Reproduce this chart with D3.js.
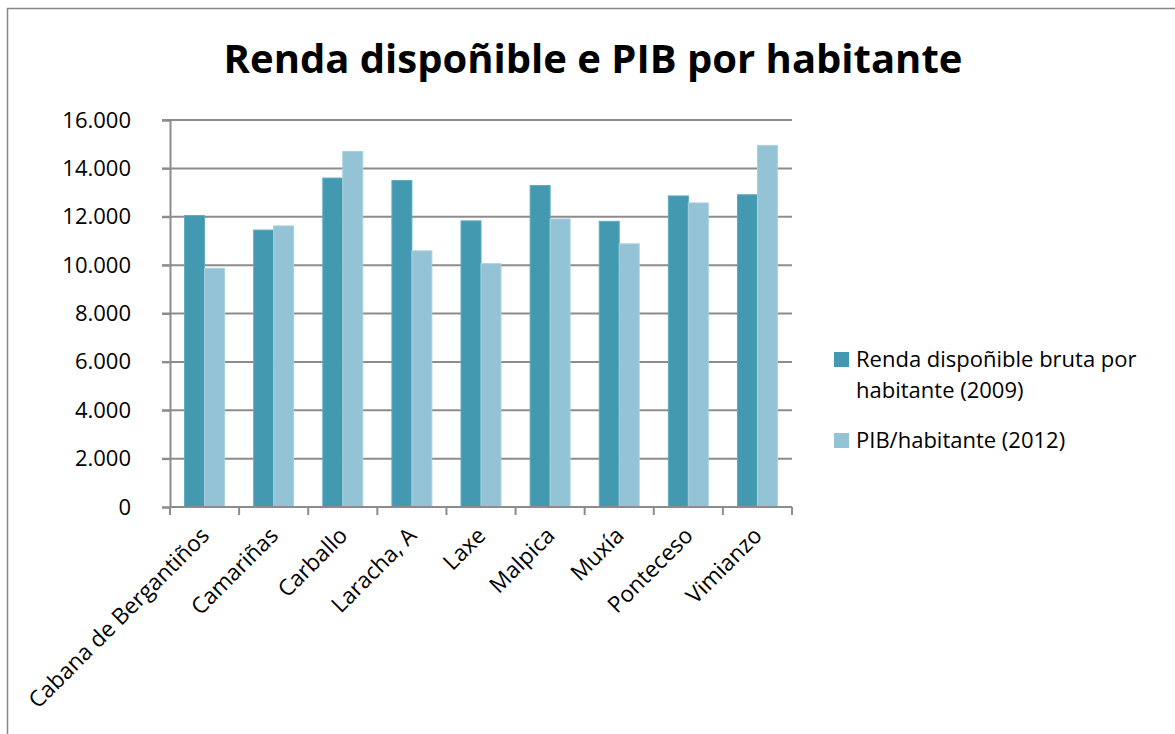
<!DOCTYPE html>
<html>
<head>
<meta charset="utf-8">
<script src="https://cdn.jsdelivr.net/npm/d3@7"></script>
<style>
  body { margin: 0; background: #fff; }
  svg { display: block; font-family: "Open Sans", "Noto Sans", sans-serif; }
</style>
</head>
<body>
<div id="chart"></div>
<script>
// data
const municipalities = ["Cabana de Bergantiños", "Camariñas", "Carballo", "Laracha, A", "Laxe",
                        "Malpica", "Muxía", "Ponteceso", "Vimianzo"];
const renda2009 = [12050, 11450, 13600, 13500, 11830, 13290, 11810, 12860, 12910];
const pib2012 = [9870, 11620, 14700, 10590, 10060, 11910, 10880, 12570, 14950];
const yTicks = [0, 2000, 4000, 6000, 8000, 10000, 12000, 14000, 16000];
const seriesNames = ["Renda dispoñible bruta por habitante (2009)", "PIB/habitante (2012)"];
const colors = ["#4399b0", "#93c3d5"];

const width = 1175, height = 734;
const margin = { top: 120, left: 170, right: 383, bottom: 226 };
const labelSize = 22;

const svg = d3.select("#chart")
  .append("svg")
  .attr("width", width)
  .attr("height", height);

// outer frame of the chart area (runs off the window right and bottom)
svg.append("rect")
  .attr("x", 7.5).attr("y", 8.5)
  .attr("width", width + 20).attr("height", height + 20)
  .attr("fill", "none")
  .attr("stroke", "#868686")
  .attr("stroke-width", 1.5);

svg.append("text")
  .attr("x", 593).attr("y", 73)
  .attr("text-anchor", "middle")
  .attr("font-size", 40)
  .attr("font-weight", "bold")
  .text("Renda dispoñible e PIB por habitante");

const xScale = d3.scaleBand()
  .domain(municipalities)
  .range([margin.left, width - margin.right]);

const yScale = d3.scaleLinear()
  .domain([0, 16000])
  .range([height - margin.bottom - 1, margin.top]);

const inner = d3.scaleBand()
  .domain([0, 1])
  .range([0, xScale.bandwidth()])
  .paddingOuter(0.73)
  .paddingInner(0);

const fmt = d3.formatLocale({ decimal: ",", thousands: ".", grouping: [3], currency: ["", "€"] }).format(",");

// gridlines
svg.append("g")
  .selectAll("line")
  .data(yTicks.filter(d => d > 0))
  .join("line")
  .attr("x1", margin.left - 8)
  .attr("x2", width - margin.right)
  .attr("y1", d => yScale(d))
  .attr("y2", d => yScale(d))
  .attr("stroke", "#8c8c8c")
  .attr("stroke-width", 2);

// bars
const groups = svg.append("g")
  .selectAll("g")
  .data(municipalities)
  .join("g")
  .attr("transform", d => `translate(${xScale(d)},0)`);

groups.selectAll("rect")
  .data((d, i) => [renda2009[i], pib2012[i]])
  .join("rect")
  .attr("x", (d, j) => inner(j))
  .attr("width", inner.bandwidth())
  .attr("y", d => yScale(d))
  .attr("height", d => yScale(0) - yScale(d))
  .attr("fill", (d, j) => colors[j])
  .attr("stroke", (d, j) => j === 0 ? "#5eaabf" : "#a9d0de")
  .attr("stroke-width", 1);

// y axis
const yAxis = svg.append("g")
  .attr("transform", `translate(${margin.left},0)`)
  .call(d3.axisLeft(yScale).tickValues(yTicks).tickFormat(fmt).tickSize(8).tickPadding(31));
yAxis.select(".domain").attr("stroke", "#8c8c8c").attr("stroke-width", 2);
yAxis.selectAll(".tick line").attr("stroke", "#8c8c8c").attr("stroke-width", 2);
yAxis.selectAll("text").attr("font-size", labelSize).attr("fill", "#000").attr("font-family", "Open Sans");

// x axis with ticks between categories
const xAxisG = svg.append("g")
  .attr("transform", `translate(0,${yScale(0)})`);
xAxisG.append("line")
  .attr("x1", margin.left).attr("x2", width - margin.right)
  .attr("stroke", "#8c8c8c").attr("stroke-width", 2);
xAxisG.selectAll(".sep")
  .data(municipalities.concat(["end"]))
  .join("line")
  .attr("class", "sep")
  .attr("x1", (d, i) => i < municipalities.length ? xScale(d) : width - margin.right)
  .attr("x2", (d, i) => i < municipalities.length ? xScale(d) : width - margin.right)
  .attr("y1", 0).attr("y2", 8)
  .attr("stroke", "#8c8c8c").attr("stroke-width", 2);
xAxisG.selectAll(".lbl")
  .data(municipalities)
  .join("text")
  .attr("class", "lbl")
  .attr("text-anchor", "end")
  .attr("font-size", labelSize + 0.5)
  .attr("transform", d => `translate(${xScale(d) + xScale.bandwidth() / 2 + 6},${30}) rotate(-45)`)
  .text(d => d);

// legend
const legend = svg.append("g").attr("transform", "translate(834,352)");
legend.append("rect").attr("width", 15).attr("height", 15).attr("fill", colors[0]);
legend.append("text").attr("x", 22).attr("y", 15).attr("font-size", labelSize).text("Renda dispoñible bruta por");
legend.append("text").attr("x", 22).attr("y", 46).attr("font-size", labelSize).text("habitante (2009)");
legend.append("rect").attr("y", 81).attr("width", 15).attr("height", 15).attr("fill", colors[1]);
legend.append("text").attr("x", 22).attr("y", 96).attr("font-size", labelSize).text(seriesNames[1]);
</script>
</body>
</html>
